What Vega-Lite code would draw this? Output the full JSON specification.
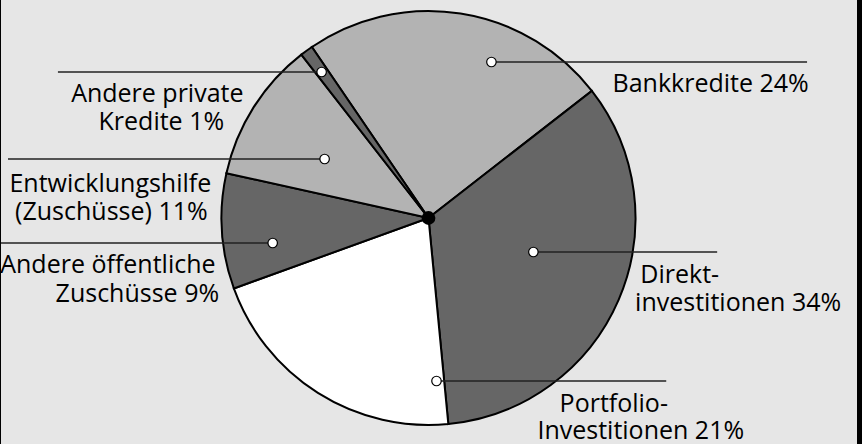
{
  "$schema": "https://vega.github.io/schema/vega-lite/v6.json",
  "width": 862,
  "height": 444,
  "autosize": {"type": "fit", "contains": "padding"},
  "padding": {"left": 0, "top": 0, "right": 5, "bottom": 0},
  "background": "#000000",
  "config": {"view": {"fill": "#e6e6e6", "stroke": null}},
  "datasets": {
    "segments": [
      {"segment": "Bankkredite", "order": 1, "share": 24},
      {"segment": "Direktinvestitionen", "order": 2, "share": 34},
      {"segment": "Portfolio-Investitionen", "order": 3, "share": 21},
      {"segment": "Andere öffentliche Zuschüsse", "order": 4, "share": 9},
      {"segment": "Entwicklungshilfe (Zuschüsse)", "order": 5, "share": 11},
      {"segment": "Andere private Kredite", "order": 6, "share": 1}
    ],
    "leaders": [
      {"segment": "Bankkredite", "px": 63, "py": 156, "lx": 379},
      {"segment": "Direktinvestitionen", "px": 105, "py": -34, "lx": 289},
      {"segment": "Portfolio-Investitionen", "px": 8, "py": -163, "lx": 238},
      {"segment": "Andere öffentliche Zuschüsse", "px": -156, "py": -25, "lx": -428},
      {"segment": "Entwicklungshilfe (Zuschüsse)", "px": -104, "py": 59, "lx": -421},
      {"segment": "Andere private Kredite", "px": -107, "py": 146, "lx": -371}
    ],
    "labelLines": [
      {"text": "Bankkredite 24%", "tx": 282.5, "ty": 126},
      {"text": "Direkt-", "tx": 251.5, "ty": -65},
      {"text": "investitionen 34%", "tx": 310, "ty": -93},
      {"text": "Portfolio-", "tx": 185.5, "ty": -193.5},
      {"text": "Investitionen 21%", "tx": 212.5, "ty": -220.5},
      {"text": "Andere öffentliche", "tx": -321, "ty": -55},
      {"text": "Zuschüsse 9%", "tx": -291.5, "ty": -84},
      {"text": "Entwicklungshilfe", "tx": -318.5, "ty": 26.5},
      {"text": "(Zuschüsse) 11%", "tx": -317.5, "ty": -1.5},
      {"text": "Andere private", "tx": -271.5, "ty": 116},
      {"text": "Kredite 1%", "tx": -267.5, "ty": 88}
    ]
  },
  "layer": [
    {
      "data": {"name": "segments"},
      "mark": {"type": "arc", "outerRadius": 207, "stroke": "#000000", "strokeWidth": 2},
      "encoding": {
        "x": {"datum": 0, "type": "quantitative", "scale": {"domain": [-428, 429], "nice": false, "zero": false}, "axis": null},
        "y": {"datum": 0, "type": "quantitative", "scale": {"domain": [-226, 218], "nice": false, "zero": false}, "axis": null},
        "theta": {"field": "share", "type": "quantitative", "stack": true, "scale": {"range": [-0.5986, 5.6846]}},
        "order": {"field": "order", "type": "quantitative"},
        "color": {
          "field": "segment",
          "type": "nominal",
          "legend": null,
          "scale": {
            "domain": ["Bankkredite", "Direktinvestitionen", "Portfolio-Investitionen", "Andere öffentliche Zuschüsse", "Entwicklungshilfe (Zuschüsse)", "Andere private Kredite"],
            "range": ["#b3b3b3", "#666666", "#ffffff", "#666666", "#b3b3b3", "#666666"]
          }
        }
      }
    },
    {
      "data": {"name": "leaders"},
      "mark": {"type": "rule", "color": "#222222", "strokeWidth": 1.5},
      "encoding": {
        "x": {"field": "px", "type": "quantitative", "axis": null},
        "x2": {"field": "lx"},
        "y": {"field": "py", "type": "quantitative", "axis": null}
      }
    },
    {
      "data": {"name": "leaders"},
      "mark": {"type": "circle", "size": 90, "fill": "#ffffff", "stroke": "#000000", "strokeWidth": 1.2, "opacity": 1},
      "encoding": {
        "x": {"field": "px", "type": "quantitative", "axis": null},
        "y": {"field": "py", "type": "quantitative", "axis": null}
      }
    },
    {
      "data": {"values": [{"cx": 0, "cy": 0}]},
      "mark": {"type": "circle", "size": 190, "color": "#000000", "opacity": 1},
      "encoding": {
        "x": {"field": "cx", "type": "quantitative", "axis": null},
        "y": {"field": "cy", "type": "quantitative", "axis": null}
      }
    },
    {
      "data": {"name": "labelLines"},
      "mark": {"type": "text", "font": "Open Sans", "fontSize": 25, "color": "#000000", "align": "center", "baseline": "alphabetic"},
      "encoding": {
        "x": {"field": "tx", "type": "quantitative", "axis": null},
        "y": {"field": "ty", "type": "quantitative", "axis": null},
        "text": {"field": "text"}
      }
    }
  ]
}
